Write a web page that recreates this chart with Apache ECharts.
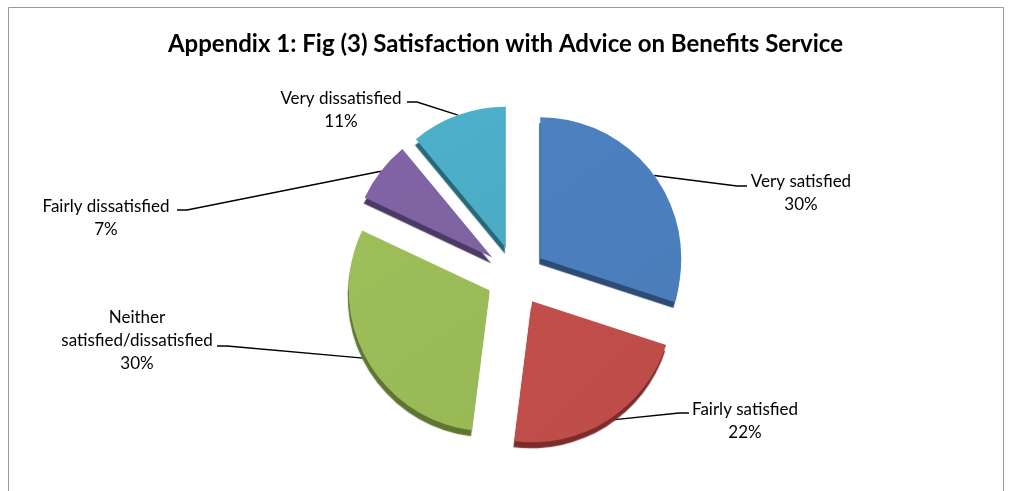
<!DOCTYPE html>
<html>
<head>
<meta charset="utf-8">
<script src="https://cdn.jsdelivr.net/npm/echarts@6/dist/echarts.min.js"></script>
<style>
  html, body { margin: 0; padding: 0; background: #ffffff; }
  #chart { width: 1011px; height: 491px; }
</style>
</head>
<body>
<div id="chart"></div>
<script>
// Survey answers, clockwise from twelve o'clock
const categories = ['Very satisfied', 'Fairly satisfied', 'Neither\nsatisfied/dissatisfied', 'Fairly dissatisfied', 'Very dissatisfied'];
const shares = [30, 22, 30, 7, 11];
const faceColors = ['#4a7dba', '#bd4c49', '#99b957', '#7e62a1', '#4babc5'];
const sideColors = ['#2d4b74', '#7a2d2b', '#5f7632', '#4c3a64', '#27697a'];

// Pie geometry and callout placement
const PIE_CENTER = [516, 276];
const PIE_RADIUS = 141;
const EXPLODE = 30;
const START_ANGLE = 90;
// text centre x, text top y, leader end point, side of the pie
const callouts = [
  { cx: 801, top: 170, end: [747, 186], side: 1 },
  { cx: 745, top: 398, end: [689, 413], side: 1 },
  { cx: 137, top: 306, end: [217, 346], side: -1 },
  { cx: 106, top: 195, end: [177, 210], side: -1 },
  { cx: 341, top: 87, end: [407, 102], side: -1 }
];

const total = shares.reduce((a, b) => a + b, 0);
// Translation applied to an exploded slice (the library moves label and leader with it)
function explodeShift(i) {
  let before = 0;
  for (let k = 0; k < i; k++) before += shares[k];
  const mid = (START_ANGLE - 360 * (before + shares[i] / 2) / total) * Math.PI / 180;
  return [Math.cos(mid) * EXPLODE, -Math.sin(mid) * EXPLODE];
}

const chart = echarts.init(document.getElementById('chart'), null, { renderer: 'canvas' });

const pieData = categories.map((name, i) => ({
  name: name,
  value: shares[i],
  selected: true,
  itemStyle: {
    color: new echarts.graphic.LinearGradient(0, 0, 1, 1, [
      { offset: 0, color: echarts.color.lift(faceColors[i], -0.03) },
      { offset: 1, color: faceColors[i] }
    ]),
    shadowColor: sideColors[i],
    shadowBlur: 1,
    shadowOffsetX: -1,
    shadowOffsetY: 6
  }
}));

chart.setOption({
  animation: false,
  backgroundColor: '#ffffff',
  title: {
    text: 'Appendix 1: Fig (3) Satisfaction with Advice on Benefits Service',
    left: 'center',
    top: 27,
    textStyle: { fontFamily: 'Lato', fontWeight: 'bold', fontSize: 24, color: '#000000' }
  },
  graphic: [{
    type: 'rect',
    silent: true,
    shape: { x: 8.5, y: 7.5, width: 995, height: 520 },
    style: { fill: 'none', stroke: '#9a9a9a', lineWidth: 1 }
  }],
  series: [{
    type: 'pie',
    center: PIE_CENTER,
    radius: PIE_RADIUS,
    startAngle: START_ANGLE,
    clockwise: true,
    selectedMode: 'multiple',
    selectedOffset: EXPLODE,
    avoidLabelOverlap: false,
    emphasis: { disabled: true },
    data: pieData,
    label: {
      show: true,
      position: 'outside',
      formatter: p => p.name + '\n' + p.value + '%',
      fontFamily: 'Lato',
      fontSize: 17,
      lineHeight: 23,
      color: '#000000'
    },
    labelLine: {
      show: true,
      lineStyle: { color: '#000000', width: 1.4 }
    },
    labelLayout: function (params) {
      const i = params.dataIndex;
      const c = callouts[i];
      const s = explodeShift(i);
      const r = params.labelRect;
      const ax = params.align === 'left' ? r.x : params.align === 'right' ? r.x + r.width : r.x + r.width / 2;
      const ay = params.verticalAlign === 'top' ? r.y : params.verticalAlign === 'bottom' ? r.y + r.height : r.y + r.height / 2;
      const endX = c.end[0] - s[0];
      const endY = c.end[1] - s[1];
      return {
        dx: c.cx - s[0] - ax,
        dy: c.top - s[1] - ay,
        align: 'center',
        verticalAlign: 'top',
        labelLinePoints: [
          params.labelLinePoints[0],
          [endX - c.side * 10, endY],
          [endX, endY]
        ]
      };
    }
  }]
});
</script>
</body>
</html>
